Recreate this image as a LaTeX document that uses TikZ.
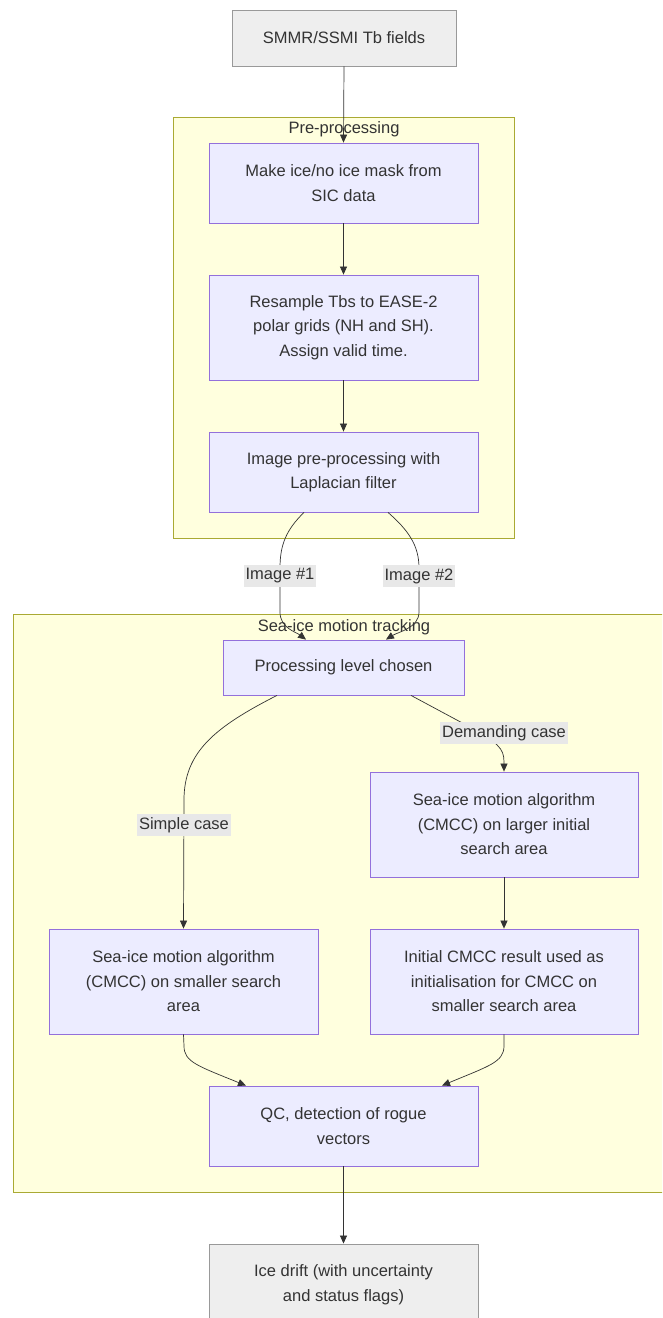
\documentclass[tikz,border=0pt]{standalone}
\usepackage{fontspec}
\setmainfont{Liberation Sans}
\usetikzlibrary{arrows.meta,calc}
\definecolor{txt}{HTML}{333333}
\definecolor{boxfill}{HTML}{ECECFF}
\definecolor{boxline}{HTML}{9370DB}
\definecolor{endfill}{HTML}{EEEEEE}
\definecolor{endline}{HTML}{999999}
\definecolor{grpfill}{HTML}{FFFFDE}
\definecolor{grpline}{HTML}{AAAA33}
\definecolor{labfill}{HTML}{E8E8E8}
\begin{document}
\begin{tikzpicture}[x=1pt,y=-1pt,
  every node/.style={font=\fontsize{16.5}{24.5}\selectfont, text=txt},
  stepbox/.style={draw=boxline, fill=boxfill, line width=0.8pt, align=center, inner sep=0pt},
  endbox/.style={draw=endline, fill=endfill, line width=0.9pt, align=center, inner sep=0pt},
  group/.style={draw=grpline, fill=grpfill, line width=0.9pt},
  grouplabel/.style={inner sep=0pt},
  edge/.style={draw=txt, line width=0.7pt, -{Triangle[length=8pt,width=7pt]}},
  elabel/.style={fill=labfill, inner xsep=2pt, inner ysep=3.5pt}
]
\useasboundingbox (0,0) rectangle (662,1318);
\clip (0,0) rectangle (662,1318);

% clusters
\path[group] (173,117) rectangle (514,538);
\node[grouplabel] (gpre) at (344,129) {Pre-processing};
\path[group] (13,614) rectangle (690,1192);
\node[grouplabel] (gsea) at (344,627) {Sea-ice motion tracking};

% nodes
\node[endbox, minimum width=224pt, minimum height=56pt] (src) at (344,38) {SMMR/SSMI Tb fields};
\node[stepbox, minimum width=269pt, minimum height=80pt] (mask) at (343.5,183) {Make ice/no ice mask from\\SIC data};
\node[stepbox, minimum width=269pt, minimum height=105pt] (resamp) at (343.5,327.5) {Resample Tbs to EASE-2\\polar grids (NH and SH).\\Assign valid time.};
\node[stepbox, minimum width=269pt, minimum height=80pt] (lap) at (343.5,472) {Image pre-processing with\\Laplacian filter};
\node[stepbox, minimum width=241pt, minimum height=55pt] (level) at (343.5,667.5) {Processing level chosen};
\node[stepbox, minimum width=268pt, minimum height=105pt] (large) at (504,824.5) {Sea-ice motion algorithm\\(CMCC) on larger initial\\search area};
\node[stepbox, minimum width=269pt, minimum height=105pt] (small) at (183.5,981.5) {Sea-ice motion algorithm\\(CMCC) on smaller search\\area};
\node[stepbox, minimum width=268pt, minimum height=105pt] (init) at (504,981.5) {Initial CMCC result used as\\initialisation for CMCC on\\smaller search area};
\node[stepbox, minimum width=269pt, minimum height=80pt] (qc) at (343.5,1126) {QC, detection of rogue\\vectors};
\node[endbox, minimum width=269pt, minimum height=81pt] (drift) at (343.5,1284.5) {Ice drift (with uncertainty\\and status flags)};

% connectors
\draw[edge] (src.south) -- (mask.north);
\draw[edge] (mask.south) -- (resamp.north);
\draw[edge] (resamp.south) -- (lap.north);

\draw[edge] ([xshift=-39.5pt]lap.south) .. controls (286,530) and (280,545) .. (280,568)
  -- (280,612) .. controls (280,628) and (296,632) .. ([xshift=-37.5pt]level.north);
\draw[edge] ([xshift=44.5pt]lap.south) .. controls (408,530) and (419,545) .. (419,568)
  -- (419,612) .. controls (419,628) and (398,632) .. ([xshift=42.5pt]level.north);

\draw[edge] ([xshift=-66.5pt]level.south) .. controls (215,727) and (184,752) .. (184,800)
  -- (small.north);
\draw[edge] ([xshift=67.5pt]level.south) -- (468,726) .. controls (498,743) and (504,748) .. (504,762)
  -- (large.north);

\draw[edge] (large.south) -- (init.north);

\draw[edge] (small.south) -- (184,1046) .. controls (184,1062) and (198,1066) .. ([xshift=-97.5pt]qc.north);
\draw[edge] (init.south) -- (504,1046) .. controls (504,1062) and (489,1066) .. ([xshift=98.5pt]qc.north);

\draw[edge] (qc.south) -- (drift.north);

% edge labels
\node[elabel] (l1) at (280,576) {Image \#1};
\node[elabel] (l2) at (419,576) {Image \#2};
\node[elabel] (l3) at (184,825) {Simple case};
\node[elabel] (l4) at (504,733) {Demanding case};
\end{tikzpicture}
\end{document}
